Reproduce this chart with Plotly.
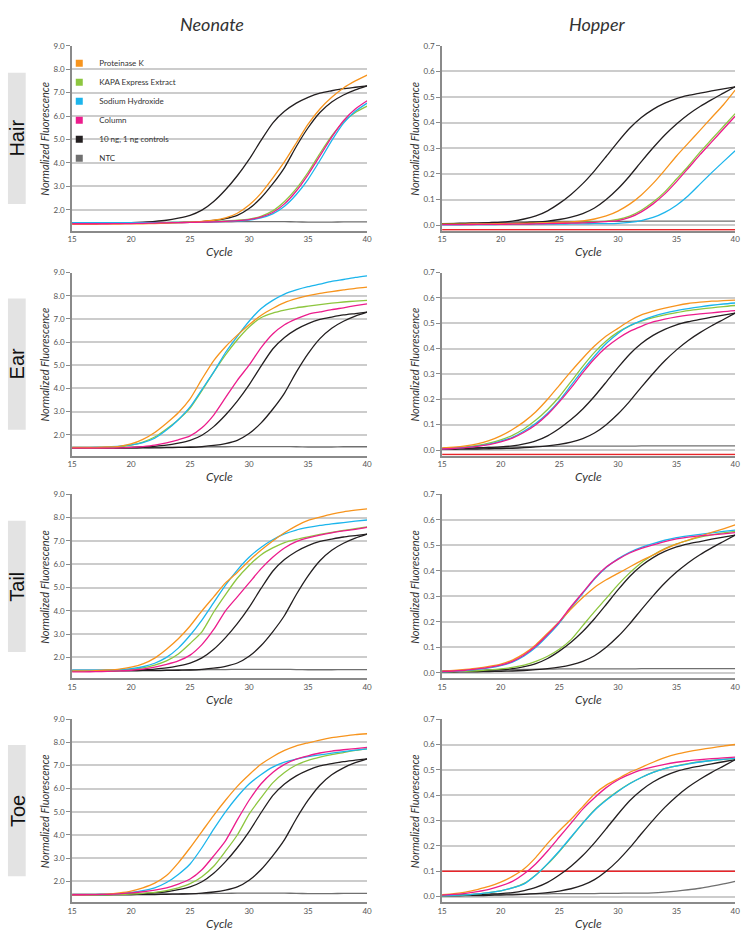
import plotly.graph_objects as go
from plotly.subplots import make_subplots

CYCLES = [15, 16, 17, 18, 19, 20, 21, 22, 23, 24, 25, 26, 27, 28, 29, 30,
          31, 32, 33, 34, 35, 36, 37, 38, 39, 40]

ROWS = ["Hair", "Ear", "Tail", "Toe"]
COLS = ["Neonate", "Hopper"]
SERIES = ["Proteinase K", "KAPA Express Extract", "Sodium Hydroxide", "Column",
          "10 ng, 1 ng controls", "NTC"]

# ---- controls (same in every panel of a column) ----
CTRL10_NEO = [1.42, 1.42, 1.42, 1.43, 1.44, 1.45, 1.47, 1.50, 1.55, 1.64, 1.76, 1.98, 2.35,
              2.85, 3.45, 4.15, 4.95, 5.70, 6.20, 6.55, 6.80, 6.98, 7.08, 7.17, 7.23, 7.29]
CTRL1_NEO = [1.42, 1.42, 1.42, 1.42, 1.42, 1.42, 1.43, 1.43, 1.44, 1.45, 1.46, 1.49, 1.54,
             1.62, 1.76, 2.05, 2.50, 3.10, 3.80, 4.70, 5.50, 6.15, 6.60, 6.90, 7.12, 7.29]
NTC_NEO = [1.45, 1.45, 1.45, 1.45, 1.45, 1.45, 1.45, 1.45, 1.46, 1.46, 1.47, 1.47, 1.48,
           1.48, 1.49, 1.49, 1.49, 1.49, 1.49, 1.48, 1.47, 1.47, 1.47, 1.48, 1.48, 1.48]

CTRL10_HOP = [0.005, 0.006, 0.007, 0.008, 0.010, 0.012, 0.016, 0.024, 0.036, 0.056, 0.085, 0.120, 0.162,
              0.212, 0.268, 0.325, 0.378, 0.420, 0.452, 0.476, 0.494, 0.506, 0.515, 0.524, 0.532, 0.540]
CTRL1_HOP = [0.003, 0.003, 0.004, 0.004, 0.005, 0.006, 0.007, 0.009, 0.012, 0.016, 0.022, 0.031, 0.045,
             0.067, 0.100, 0.142, 0.192, 0.248, 0.302, 0.352, 0.395, 0.432, 0.463, 0.490, 0.515, 0.540]
NTC_HOP = [0.006, 0.007, 0.008, 0.009, 0.010, 0.011, 0.012, 0.013, 0.014, 0.014, 0.015, 0.015, 0.015,
           0.015, 0.015, 0.015, 0.015, 0.016, 0.016, 0.016, 0.016, 0.016, 0.016, 0.016, 0.016, 0.016]
NTC_HOP_TOE = [0.004, 0.005, 0.006, 0.007, 0.008, 0.009, 0.010, 0.010, 0.011, 0.011, 0.012, 0.012, 0.012,
               0.012, 0.013, 0.013, 0.014, 0.014, 0.015, 0.018, 0.022, 0.027, 0.033, 0.041, 0.050, 0.060]

# ---- Hair ----
HAIR_NEO_PK = [1.38, 1.38, 1.38, 1.39, 1.39, 1.40, 1.40, 1.41, 1.43, 1.45, 1.47, 1.50, 1.55,
               1.65, 1.85, 2.20, 2.70, 3.35, 4.05, 4.85, 5.65, 6.30, 6.80, 7.20, 7.50, 7.75]
HAIR_NEO_KAPA = [1.42, 1.42, 1.42, 1.42, 1.43, 1.43, 1.44, 1.44, 1.45, 1.46, 1.47, 1.48, 1.50,
                 1.52, 1.55, 1.60, 1.72, 1.95, 2.35, 2.90, 3.60, 4.40, 5.15, 5.75, 6.15, 6.42]
HAIR_NEO_NAOH = [1.45, 1.45, 1.45, 1.45, 1.45, 1.45, 1.45, 1.45, 1.45, 1.46, 1.46, 1.47, 1.48,
                 1.50, 1.52, 1.56, 1.65, 1.82, 2.15, 2.65, 3.30, 4.10, 4.95, 5.70, 6.20, 6.55]
HAIR_NEO_COL = [1.40, 1.40, 1.40, 1.40, 1.41, 1.41, 1.42, 1.43, 1.44, 1.45, 1.46, 1.47, 1.48,
                1.50, 1.53, 1.58, 1.68, 1.88, 2.25, 2.80, 3.50, 4.30, 5.10, 5.80, 6.30, 6.65]

HAIR_HOP_PK = [0.004, 0.004, 0.004, 0.005, 0.005, 0.006, 0.006, 0.007, 0.008, 0.009, 0.011, 0.013, 0.017,
               0.024, 0.036, 0.055, 0.082, 0.118, 0.163, 0.215, 0.270, 0.320, 0.370, 0.420, 0.470, 0.527]
HAIR_HOP_KAPA = [0.003, 0.003, 0.003, 0.004, 0.004, 0.005, 0.005, 0.006, 0.007, 0.008, 0.009, 0.010, 0.011,
                 0.013, 0.016, 0.022, 0.035, 0.058, 0.090, 0.130, 0.180, 0.230, 0.285, 0.335, 0.385, 0.435]
HAIR_HOP_NAOH = [0.001, 0.001, 0.002, 0.002, 0.002, 0.003, 0.003, 0.003, 0.004, 0.004, 0.004, 0.005, 0.005,
                 0.006, 0.006, 0.007, 0.011, 0.018, 0.030, 0.050, 0.078, 0.115, 0.160, 0.205, 0.248, 0.290]
HAIR_HOP_COL = [0.002, 0.002, 0.002, 0.003, 0.003, 0.003, 0.004, 0.004, 0.005, 0.006, 0.007, 0.008, 0.009,
                0.011, 0.014, 0.018, 0.030, 0.052, 0.083, 0.122, 0.170, 0.222, 0.275, 0.325, 0.375, 0.425]

# ---- Ear ----
EAR_NEO_PK = [1.45, 1.45, 1.45, 1.47, 1.50, 1.60, 1.80, 2.10, 2.50, 2.95, 3.55, 4.40, 5.20,
              5.80, 6.30, 6.75, 7.15, 7.45, 7.70, 7.87, 8.00, 8.10, 8.18, 8.25, 8.32, 8.37]
EAR_NEO_KAPA = [1.42, 1.42, 1.42, 1.44, 1.47, 1.55, 1.68, 1.90, 2.25, 2.65, 3.15, 3.90, 4.70,
                5.45, 6.10, 6.65, 7.05, 7.25, 7.38, 7.48, 7.55, 7.62, 7.68, 7.73, 7.77, 7.80]
EAR_NEO_NAOH = [1.45, 1.45, 1.46, 1.48, 1.51, 1.56, 1.66, 1.85, 2.20, 2.65, 3.20, 3.95, 4.70,
                5.55, 6.25, 6.90, 7.44, 7.80, 8.07, 8.25, 8.39, 8.50, 8.62, 8.70, 8.79, 8.86]
EAR_NEO_COL = [1.42, 1.42, 1.42, 1.42, 1.43, 1.45, 1.49, 1.55, 1.65, 1.78, 1.95, 2.30, 2.85,
               3.60, 4.35, 5.00, 5.75, 6.35, 6.75, 7.00, 7.20, 7.30, 7.40, 7.48, 7.57, 7.65]

EAR_HOP_PK = [0.008, 0.011, 0.016, 0.024, 0.037, 0.056, 0.081, 0.112, 0.151, 0.200, 0.255, 0.310, 0.362,
              0.410, 0.450, 0.480, 0.510, 0.533, 0.548, 0.560, 0.570, 0.578, 0.583, 0.587, 0.589, 0.591]
EAR_HOP_KAPA = [0.006, 0.008, 0.012, 0.018, 0.027, 0.040, 0.058, 0.084, 0.118, 0.160, 0.210, 0.270, 0.330,
                0.385, 0.430, 0.465, 0.490, 0.508, 0.522, 0.533, 0.542, 0.550, 0.556, 0.561, 0.566, 0.570]
EAR_HOP_NAOH = [0.005, 0.007, 0.010, 0.015, 0.023, 0.035, 0.050, 0.075, 0.105, 0.145, 0.195, 0.255, 0.315,
                0.370, 0.420, 0.460, 0.490, 0.510, 0.527, 0.540, 0.550, 0.558, 0.565, 0.571, 0.576, 0.580]
EAR_HOP_COL = [0.004, 0.006, 0.009, 0.014, 0.021, 0.032, 0.047, 0.070, 0.100, 0.140, 0.190, 0.245, 0.305,
               0.360, 0.405, 0.440, 0.468, 0.488, 0.505, 0.516, 0.525, 0.532, 0.537, 0.541, 0.546, 0.550]

# ---- Tail ----
TAIL_NEO_PK = [1.42, 1.42, 1.43, 1.46, 1.50, 1.58, 1.72, 1.97, 2.35, 2.80, 3.35, 4.00, 4.60,
               5.20, 5.65, 6.15, 6.60, 7.00, 7.35, 7.65, 7.88, 8.02, 8.15, 8.25, 8.32, 8.38]
TAIL_NEO_KAPA = [1.40, 1.40, 1.41, 1.42, 1.44, 1.48, 1.55, 1.67, 1.85, 2.15, 2.60, 3.10, 3.95,
                 4.70, 5.40, 5.95, 6.40, 6.70, 6.93, 7.07, 7.18, 7.28, 7.37, 7.45, 7.53, 7.60]
TAIL_NEO_NAOH = [1.45, 1.45, 1.45, 1.46, 1.48, 1.52, 1.60, 1.75, 2.00, 2.40, 2.95, 3.60, 4.35,
                 5.10, 5.75, 6.30, 6.72, 7.05, 7.30, 7.47, 7.58, 7.67, 7.73, 7.79, 7.85, 7.90]
TAIL_NEO_COL = [1.38, 1.38, 1.39, 1.40, 1.42, 1.45, 1.50, 1.58, 1.70, 1.85, 2.10, 2.55, 3.20,
                4.00, 4.60, 5.20, 5.80, 6.30, 6.70, 6.97, 7.13, 7.25, 7.35, 7.43, 7.50, 7.58]

TAIL_HOP_PK = [0.006, 0.009, 0.013, 0.018, 0.025, 0.034, 0.050, 0.075, 0.110, 0.155, 0.200, 0.250, 0.295,
               0.335, 0.365, 0.390, 0.415, 0.440, 0.462, 0.485, 0.505, 0.521, 0.536, 0.551, 0.565, 0.580]
TAIL_HOP_KAPA = [0.004, 0.005, 0.006, 0.008, 0.011, 0.015, 0.021, 0.030, 0.045, 0.065, 0.092, 0.130, 0.185,
                 0.240, 0.292, 0.345, 0.392, 0.432, 0.462, 0.487, 0.506, 0.520, 0.532, 0.541, 0.549, 0.555]
TAIL_HOP_NAOH = [0.004, 0.006, 0.009, 0.013, 0.019, 0.028, 0.042, 0.066, 0.100, 0.145, 0.195, 0.255, 0.312,
                 0.368, 0.413, 0.447, 0.473, 0.492, 0.507, 0.520, 0.530, 0.537, 0.543, 0.549, 0.555, 0.560]
TAIL_HOP_COL = [0.005, 0.007, 0.010, 0.015, 0.021, 0.030, 0.045, 0.070, 0.105, 0.150, 0.200, 0.260, 0.315,
                0.370, 0.415, 0.445, 0.470, 0.488, 0.502, 0.515, 0.525, 0.532, 0.537, 0.541, 0.545, 0.550]

# ---- Toe ----
TOE_NEO_PK = [1.42, 1.42, 1.43, 1.45, 1.50, 1.58, 1.72, 1.92, 2.25, 2.80, 3.45, 4.15, 4.85,
              5.50, 6.10, 6.60, 7.05, 7.38, 7.65, 7.85, 7.98, 8.10, 8.20, 8.27, 8.33, 8.37]
TOE_NEO_KAPA = [1.40, 1.40, 1.41, 1.42, 1.43, 1.45, 1.48, 1.52, 1.60, 1.72, 1.90, 2.20, 2.65,
                3.30, 4.00, 4.90, 5.60, 6.25, 6.70, 7.02, 7.22, 7.36, 7.47, 7.56, 7.65, 7.72]
TOE_NEO_NAOH = [1.42, 1.42, 1.43, 1.44, 1.47, 1.52, 1.60, 1.72, 1.95, 2.30, 2.75, 3.45, 4.25,
                5.00, 5.65, 6.20, 6.60, 6.93, 7.15, 7.28, 7.38, 7.46, 7.53, 7.60, 7.66, 7.72]
TOE_NEO_COL = [1.42, 1.42, 1.43, 1.44, 1.46, 1.50, 1.55, 1.62, 1.72, 1.88, 2.10, 2.50, 3.10,
               3.75, 4.65, 5.50, 6.20, 6.70, 7.05, 7.28, 7.42, 7.54, 7.62, 7.68, 7.73, 7.78]

TOE_HOP_PK = [0.008, 0.012, 0.018, 0.028, 0.040, 0.057, 0.080, 0.110, 0.155, 0.210, 0.260, 0.305, 0.355,
              0.405, 0.440, 0.465, 0.490, 0.510, 0.530, 0.548, 0.562, 0.572, 0.580, 0.587, 0.594, 0.600]
TOE_HOP_KAPA = [0.003, 0.005, 0.007, 0.011, 0.016, 0.023, 0.034, 0.052, 0.085, 0.128, 0.178, 0.233, 0.290,
                0.342, 0.382, 0.416, 0.446, 0.470, 0.490, 0.505, 0.516, 0.525, 0.532, 0.537, 0.541, 0.545]
TOE_HOP_NAOH = [0.003, 0.005, 0.007, 0.011, 0.016, 0.023, 0.034, 0.050, 0.085, 0.130, 0.180, 0.235, 0.290,
                0.340, 0.380, 0.415, 0.445, 0.470, 0.490, 0.505, 0.515, 0.524, 0.531, 0.537, 0.541, 0.545]
TOE_HOP_COL = [0.006, 0.009, 0.013, 0.020, 0.029, 0.042, 0.060, 0.090, 0.130, 0.180, 0.235, 0.290, 0.345,
               0.390, 0.430, 0.460, 0.482, 0.500, 0.512, 0.522, 0.530, 0.536, 0.540, 0.544, 0.547, 0.550]

# red threshold line per hopper panel (None = not shown)
THRESH_HOP = [-0.018, -0.018, None, 0.1]

NEO_DATA = [
    (HAIR_NEO_PK, HAIR_NEO_KAPA, HAIR_NEO_NAOH, HAIR_NEO_COL),
    (EAR_NEO_PK, EAR_NEO_KAPA, EAR_NEO_NAOH, EAR_NEO_COL),
    (TAIL_NEO_PK, TAIL_NEO_KAPA, TAIL_NEO_NAOH, TAIL_NEO_COL),
    (TOE_NEO_PK, TOE_NEO_KAPA, TOE_NEO_NAOH, TOE_NEO_COL),
]
HOP_DATA = [
    (HAIR_HOP_PK, HAIR_HOP_KAPA, HAIR_HOP_NAOH, HAIR_HOP_COL),
    (EAR_HOP_PK, EAR_HOP_KAPA, EAR_HOP_NAOH, EAR_HOP_COL),
    (TAIL_HOP_PK, TAIL_HOP_KAPA, TAIL_HOP_NAOH, TAIL_HOP_COL),
    (TOE_HOP_PK, TOE_HOP_KAPA, TOE_HOP_NAOH, TOE_HOP_COL),
]
NTC_HOP_ROWS = [NTC_HOP, NTC_HOP, NTC_HOP, NTC_HOP_TOE]

C_PK = "#F7941D"
C_KAPA = "#8DC63F"
C_NAOH = "#1CB5EC"
C_COL = "#EC1C8C"
C_CTRL = "#231F20"
C_NTC = "#707070"
COLORS = [C_PK, C_KAPA, C_NAOH, C_COL, C_CTRL, C_NTC]

W, H = 751, 937
FONT = "Lato"

fig = make_subplots(rows=4, cols=2)

def px_x(p):
    return p / W

def px_y(p):
    return 1 - p / H

X_DOM = [(68, 367), (443, 740)]
Y_DOM = [(41, 227), (269, 453), (492, 677), (718, 902)]

LW = 1.3

for r in range(4):
    for c in range(2):
        row, col = r + 1, c + 1
        if c == 0:
            pk, kapa, naoh, colm = NEO_DATA[r]
            ntc, c10, c1 = NTC_NEO, CTRL10_NEO, CTRL1_NEO
        else:
            pk, kapa, naoh, colm = HOP_DATA[r]
            ntc, c10, c1 = NTC_HOP_ROWS[r], CTRL10_HOP, CTRL1_HOP
            if THRESH_HOP[r] is not None:
                fig.add_trace(go.Scatter(x=[CYCLES[0], CYCLES[-1]], y=[THRESH_HOP[r]] * 2,
                                         mode="lines", line=dict(color="#E8252A", width=1.4),
                                         showlegend=False, hoverinfo="skip"), row=row, col=col)
        for ys, colr in [(ntc, C_NTC), (c10, C_CTRL), (c1, C_CTRL),
                         (kapa, C_KAPA), (naoh, C_NAOH), (pk, C_PK), (colm, C_COL)]:
            fig.add_trace(go.Scatter(x=CYCLES, y=ys, mode="lines",
                                     line=dict(color=colr, width=LW, shape="spline", smoothing=0.6),
                                     showlegend=False), row=row, col=col)

# legend entries (square swatches)
for name, colr in zip(SERIES, COLORS):
    fig.add_trace(go.Scatter(x=[None], y=[None], mode="markers", name=name,
                             marker=dict(symbol="square", size=7, color=colr)), row=1, col=1)

axis_font = dict(family=FONT, size=8, color="#555555")
for r in range(4):
    for c in range(2):
        row, col = r + 1, c + 1
        fig.update_xaxes(row=row, col=col, domain=[px_x(X_DOM[c][0]), px_x(X_DOM[c][1])],
                         range=[15, 40], tickvals=[15, 20, 25, 30, 35, 40],
                         showgrid=False, zeroline=False, showline=True,
                         linecolor="#8a8a8a", linewidth=1.5, ticks="",
                         tickfont=axis_font)
        if c == 0:
            yr, tv = [1.1, 9.0], [2, 3, 4, 5, 6, 7, 8, 9]
        else:
            yr, tv = [-0.022, 0.7], [0, 0.1, 0.2, 0.3, 0.4, 0.5, 0.6, 0.7]
        fig.update_yaxes(row=row, col=col, domain=[px_y(Y_DOM[r][1]), px_y(Y_DOM[r][0])],
                         range=yr, tickvals=tv, tickformat=".1f",
                         showgrid=True, gridcolor="#cccccc", gridwidth=1.5,
                         zeroline=False, showline=True, linecolor="#8a8a8a", linewidth=1.5,
                         ticks="outside", ticklen=4, tickcolor="#8a8a8a", tickwidth=1,
                         tickfont=axis_font)

annotations = []
shapes = []
# column titles
for c, name in enumerate(COLS):
    cx = (X_DOM[c][0] + X_DOM[c][1]) / 2 - (8 if c == 0 else -8)
    annotations.append(dict(text=f"<i>{name}</i>", x=px_x(cx), y=px_y(19), xref="paper", yref="paper",
                            showarrow=False, font=dict(family=FONT, size=18, color="#333333"),
                            xanchor="center", yanchor="middle"))
for r, name in enumerate(ROWS):
    top, bot = Y_DOM[r]
    cy = (top + bot) / 2
    shapes.append(dict(type="rect", xref="paper", yref="paper",
                       x0=px_x(3), x1=px_x(21), y0=px_y(cy + 66), y1=px_y(cy - 66),
                       fillcolor="#e3e3e3", line=dict(width=0), layer="below"))
    annotations.append(dict(text=name, x=px_x(12.5), y=px_y(cy), xref="paper", yref="paper",
                            showarrow=False, textangle=-90,
                            font=dict(family="Liberation Sans", size=20, color="#111111"),
                            xanchor="center", yanchor="middle"))
    for c in range(2):
        ytx = 40 if c == 0 else 415
        annotations.append(dict(text="<i>Normalized Fluorescence</i>", x=px_x(ytx), y=px_y(cy),
                                xref="paper", yref="paper", showarrow=False, textangle=-90,
                                font=dict(family=FONT, size=11, color="#333333"),
                                xanchor="center", yanchor="middle"))
        cx = (X_DOM[c][0] + X_DOM[c][1]) / 2
        annotations.append(dict(text="<i>Cycle</i>", x=px_x(cx), y=px_y(bot + 21),
                                xref="paper", yref="paper", showarrow=False,
                                font=dict(family=FONT, size=12, color="#333333"),
                                xanchor="center", yanchor="middle"))

fig.update_layout(
    width=W, height=H,
    margin=dict(l=0, r=0, t=0, b=0),
    paper_bgcolor="white", plot_bgcolor="white",
    font=dict(family=FONT, color="#333333"),
    annotations=annotations, shapes=shapes,
    showlegend=True,
    legend=dict(x=px_x(55), y=px_y(44), xanchor="left", yanchor="top",
                bgcolor="rgba(255,255,255,0)", borderwidth=0,
                font=dict(family=FONT, size=8, color="#333333"),
                itemwidth=30, tracegroupgap=0),
)

fig.write_html("out.html", config={"displayModeBar": False},
               post_script="document.body.style.margin='0';document.body.style.overflow='hidden';")
